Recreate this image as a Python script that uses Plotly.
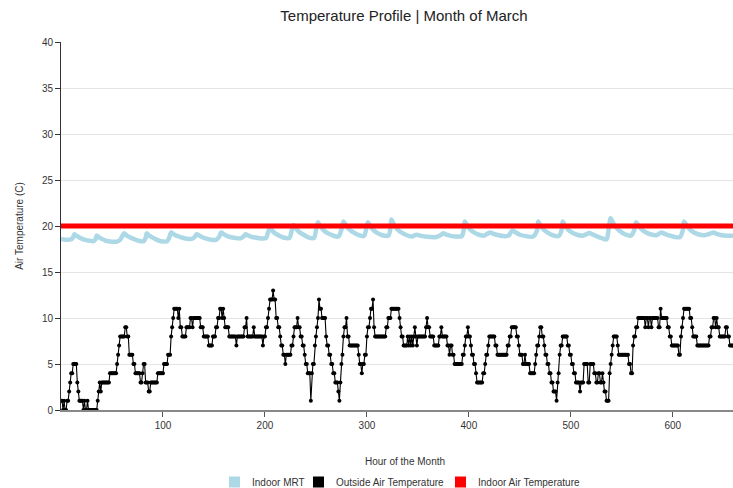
import plotly.graph_objects as go

# Hourly outside air temperature (deg C), hour 0 .. 659
outside_temp = [
    1, 1, 0, 1, 0, 0, 1, 1, 2, 3, 4, 4, 5, 5, 5, 5, 3, 2, 1, 1, 1, 1, 0, 1,
    0, 0, 1, 0, 0, 0, 0, 0, 0, 0, 0, 0, 1, 2, 3, 2, 3, 3, 3, 3, 3, 3, 3, 3,
    4, 4, 4, 4, 4, 4, 4, 5, 6, 7, 8, 8, 8, 8, 8, 9, 9, 8, 8, 6, 6, 6, 6, 5,
    5, 4, 4, 4, 4, 4, 3, 3, 4, 5, 5, 3, 3, 3, 2, 2, 3, 3, 3, 3, 3, 3, 3, 4,
    4, 4, 4, 4, 4, 5, 5, 5, 5, 6, 6, 6, 8, 9, 10, 11, 11, 11, 11, 10, 11, 9, 9, 8,
    8, 8, 8, 9, 9, 9, 9, 10, 10, 9, 10, 10, 10, 10, 10, 10, 10, 9, 9, 9, 8, 8, 8, 8,
    8, 7, 7, 7, 7, 8, 8, 8, 9, 9, 10, 10, 11, 11, 10, 11, 10, 9, 9, 9, 9, 8, 8, 8,
    8, 8, 8, 8, 7, 8, 8, 8, 8, 8, 8, 8, 9, 9, 10, 8, 8, 8, 8, 8, 8, 9, 8, 8,
    8, 8, 8, 8, 8, 8, 7, 8, 8, 9, 9, 10, 11, 12, 12, 12, 13, 12, 12, 10, 10, 9, 9, 8,
    7, 7, 6, 6, 5, 6, 6, 6, 6, 6, 7, 7, 8, 9, 9, 9, 10, 9, 9, 8, 8, 7, 7, 6,
    5, 5, 4, 4, 4, 1, 4, 5, 5, 7, 8, 9, 10, 12, 11, 11, 10, 10, 10, 10, 8, 7, 7, 6,
    6, 5, 5, 4, 4, 3, 3, 3, 2, 1, 3, 5, 6, 8, 9, 9, 10, 8, 8, 7, 7, 7, 7, 7,
    7, 7, 7, 7, 6, 5, 5, 4, 5, 5, 6, 6, 8, 9, 9, 10, 11, 11, 12, 9, 8, 8, 8, 8,
    8, 8, 8, 8, 8, 8, 8, 9, 9, 10, 10, 10, 11, 11, 11, 11, 11, 11, 11, 11, 10, 9, 8, 8,
    7, 7, 7, 7, 8, 7, 8, 7, 8, 7, 8, 9, 8, 7, 8, 8, 8, 8, 8, 8, 8, 8, 9, 10,
    9, 9, 8, 8, 8, 8, 7, 7, 7, 7, 7, 8, 8, 9, 8, 8, 8, 8, 8, 7, 7, 6, 7, 7,
    6, 6, 5, 5, 5, 5, 5, 5, 5, 5, 6, 6, 7, 8, 8, 9, 8, 8, 7, 6, 6, 5, 5, 4,
    3, 3, 3, 3, 3, 3, 4, 4, 5, 6, 6, 7, 8, 8, 8, 8, 8, 8, 7, 7, 6, 6, 6, 6,
    6, 6, 6, 6, 6, 6, 7, 7, 8, 8, 9, 9, 9, 9, 9, 8, 8, 7, 6, 6, 6, 5, 5, 6,
    5, 5, 5, 5, 4, 4, 4, 4, 4, 5, 6, 7, 7, 8, 9, 9, 8, 8, 7, 6, 6, 5, 5, 4,
    4, 3, 3, 2, 2, 2, 1, 3, 4, 6, 7, 7, 8, 8, 8, 8, 8, 7, 7, 6, 6, 5, 5, 4,
    4, 3, 3, 3, 3, 2, 3, 3, 3, 5, 5, 5, 5, 3, 3, 5, 5, 5, 5, 4, 4, 3, 3, 4,
    4, 3, 3, 4, 3, 2, 2, 1, 1, 1, 4, 5, 6, 7, 8, 8, 8, 8, 7, 6, 6, 6, 6, 6,
    6, 6, 6, 6, 6, 5, 5, 4, 4, 7, 8, 8, 9, 9, 10, 10, 10, 10, 10, 10, 10, 9, 10, 10,
    9, 10, 10, 9, 10, 10, 10, 10, 10, 10, 9, 9, 11, 10, 10, 10, 10, 10, 10, 9, 9, 8, 8, 7,
    7, 7, 7, 7, 7, 7, 6, 6, 8, 9, 10, 11, 11, 11, 11, 11, 11, 10, 10, 9, 8, 8, 8, 8,
    7, 7, 7, 7, 7, 7, 7, 7, 7, 7, 7, 7, 8, 8, 9, 9, 10, 10, 9, 10, 9, 9, 8, 8,
    8, 8, 8, 8, 9, 9, 8, 8, 7, 7, 7, 7,
]
outside_hours = list(range(len(outside_temp)))

# Indoor mean radiant temperature, sampled at the turning points of each daily cycle
mrt_hours = [
    0, 5, 10, 12, 13, 15, 18, 22, 28, 32,
    34, 35, 37, 40, 44, 50, 55,
    58, 61, 62, 64, 67, 71, 76, 81,
    83, 84, 86, 89, 93, 98, 104,
    106, 108, 110, 113, 117, 122, 128,
    131, 133, 135, 138, 142, 147, 152,
    155, 157, 159, 162, 166, 171, 176,
    179, 181, 183, 186, 190, 196, 201,
    203, 205, 207, 210, 214, 218, 224,
    226, 228, 230, 233, 237, 242, 248,
    250, 252, 254, 257, 261, 266, 272,
    275, 277, 279, 282, 286, 291, 297,
    299, 301, 303, 306, 310, 315, 321,
    323, 324, 326, 329, 333, 338, 344,
    347, 349, 352, 357, 362, 368,
    372, 375, 378, 383, 388, 393,
    395, 396, 398, 401, 405, 410, 415,
    418, 421, 424, 429, 434, 439,
    441, 443, 446, 450, 456, 463,
    467, 468, 470, 473, 477, 482, 488,
    491, 492, 494, 497, 501, 506, 511,
    515, 518, 521, 526, 531, 535,
    537, 539, 541, 544, 548, 553, 559,
    562, 564, 566, 569, 573, 578, 584,
    587, 589, 592, 597, 602, 607,
    610, 611, 613, 616, 620, 625, 631,
    636, 640, 643, 648, 653, 659,
]
mrt_temp = [
    18.6, 18.5, 18.55, 18.8, 19.1, 18.95, 18.75, 18.55, 18.4, 18.35,
    18.6, 18.95, 18.8, 18.6, 18.4, 18.3, 18.3,
    18.5, 19.1, 19.2, 19.0, 18.8, 18.6, 18.4, 18.35,
    18.7, 19.2, 19.0, 18.8, 18.55, 18.35, 18.35,
    18.7, 19.3, 19.15, 18.95, 18.8, 18.65, 18.6,
    18.8, 19.1, 19.0, 18.8, 18.65, 18.5, 18.5,
    18.8, 19.3, 19.15, 18.95, 18.8, 18.7, 18.65,
    18.85, 19.1, 19.0, 18.85, 18.75, 18.65, 18.7,
    19.3, 19.8, 19.5, 19.2, 18.95, 18.75, 18.7,
    19.4, 20.1, 19.8, 19.4, 19.1, 18.8, 18.7,
    19.5, 20.4, 20.05, 19.6, 19.25, 19.0, 18.85,
    19.6, 20.5, 20.15, 19.7, 19.35, 19.05, 18.9,
    19.5, 20.4, 20.05, 19.6, 19.25, 19.0, 18.95,
    19.7, 20.7, 20.25, 19.75, 19.35, 19.05, 18.85,
    19.0, 19.05, 18.95, 18.85, 18.8, 18.8,
    19.0, 19.2, 19.05, 18.9, 18.85, 18.9,
    19.6, 20.5, 20.1, 19.65, 19.3, 19.05, 18.95,
    19.15, 19.3, 19.15, 19.0, 18.9, 18.95,
    19.3, 19.5, 19.3, 19.05, 18.9, 18.85,
    19.6, 20.5, 20.1, 19.65, 19.3, 19.0, 18.9,
    19.6, 20.5, 20.1, 19.65, 19.3, 19.05, 18.95,
    19.1, 19.25, 19.1, 18.85, 18.65, 18.55,
    19.6, 20.85, 20.4, 19.9, 19.45, 19.1, 18.95,
    19.5, 20.4, 20.1, 19.7, 19.35, 19.1, 19.0,
    19.2, 19.3, 19.15, 18.95, 18.8, 18.8,
    19.6, 20.5, 20.15, 19.7, 19.35, 19.1, 19.0,
    19.15, 19.3, 19.15, 19.0, 18.95, 18.95,
]

# Indoor air temperature setpoint held through the month
indoor_air_hours = [0, 659]
indoor_air_temp = [20, 20]

series_names = ["Indoor MRT", "Outside Air Temperature", "Indoor Air Temperature"]
series_colors = ["#add8e6", "#000000", "#ff0000"]

y_ticks = [0, 5, 10, 15, 20, 25, 30, 35, 40]
x_ticks = [100, 200, 300, 400, 500, 600]

FONT = "Liberation Sans, Arial, sans-serif"
W, H = 733, 488
ML, MR, MT, MB = 61, 0, 42, 78
PW, PH = W - ML - MR, H - MT - MB


def px_x(px):
    """Horizontal page pixel -> paper coordinate."""
    return (px - ML) / PW


def px_y(py):
    """Vertical page pixel (from top) -> paper coordinate."""
    return (H - MB - py) / PH


fig = go.Figure()

fig.add_trace(go.Scatter(
    x=mrt_hours, y=mrt_temp, mode="lines", name=series_names[0],
    line=dict(color=series_colors[0], width=4.5, shape="spline", smoothing=0.8),
    showlegend=False,
))
fig.add_trace(go.Scatter(
    x=outside_hours, y=outside_temp, mode="lines+markers", name=series_names[1],
    line=dict(color=series_colors[1], width=1.1),
    marker=dict(color=series_colors[1], size=4),
    showlegend=False,
))
fig.add_trace(go.Scatter(
    x=indoor_air_hours, y=indoor_air_temp, mode="lines", name=series_names[2],
    line=dict(color=series_colors[2], width=5),
    showlegend=False,
))

# Legend row: colour swatch + label for each series
legend_swatch_px = [229, 313, 455]
legend_y_px = 482
for name, color, sx in zip(series_names, series_colors, legend_swatch_px):
    fig.add_shape(
        type="rect", xref="paper", yref="paper",
        x0=px_x(sx), x1=px_x(sx + 11),
        y0=px_y(legend_y_px + 5.5), y1=px_y(legend_y_px - 5.5),
        fillcolor=color, line=dict(width=0),
    )
    fig.add_annotation(
        text=name, xref="paper", yref="paper",
        x=px_x(sx + 21), y=px_y(legend_y_px),
        xanchor="left", yanchor="middle", showarrow=False,
        font=dict(family=FONT, size=10, color="#333333"),
    )

# X-axis title, centred with the chart title and legend
fig.add_annotation(
    text="Hour of the Month", xref="paper", yref="paper",
    x=px_x(405), y=px_y(461), xanchor="center", yanchor="middle",
    showarrow=False, font=dict(family=FONT, size=10, color="#333333"),
)

fig.update_layout(
    width=W, height=H,
    margin=dict(l=ML, r=MR, t=MT, b=MB),
    paper_bgcolor="white", plot_bgcolor="white",
    font=dict(family=FONT, size=10, color="#333333"),
    showlegend=False,
    title=dict(
        text="Temperature Profile | Month of March",
        x=404 / W, xanchor="center", y=1 - 16 / H, yanchor="middle",
        font=dict(family=FONT, size=15, color="#222222"),
    ),
    xaxis=dict(
        range=[0, 659], tickvals=x_ticks, ticks="outside", ticklen=5,
        tickcolor="#555555", showgrid=False, zeroline=False,
        showline=True, linecolor="#888888", linewidth=2,
        tickfont=dict(size=10, color="#333333"),
    ),
    yaxis=dict(
        range=[0, 40], tickvals=y_ticks, ticks="outside", ticklen=5,
        tickcolor="#333333", showgrid=True, gridcolor="#e4e4e4", gridwidth=1,
        zeroline=False, showline=True, linecolor="#333333", linewidth=1,
        tickfont=dict(size=10, color="#333333"),
        title=dict(text="Air Temperature (C)", font=dict(size=10, color="#333333"), standoff=16),
    ),
)

fig.write_html("out.html")
